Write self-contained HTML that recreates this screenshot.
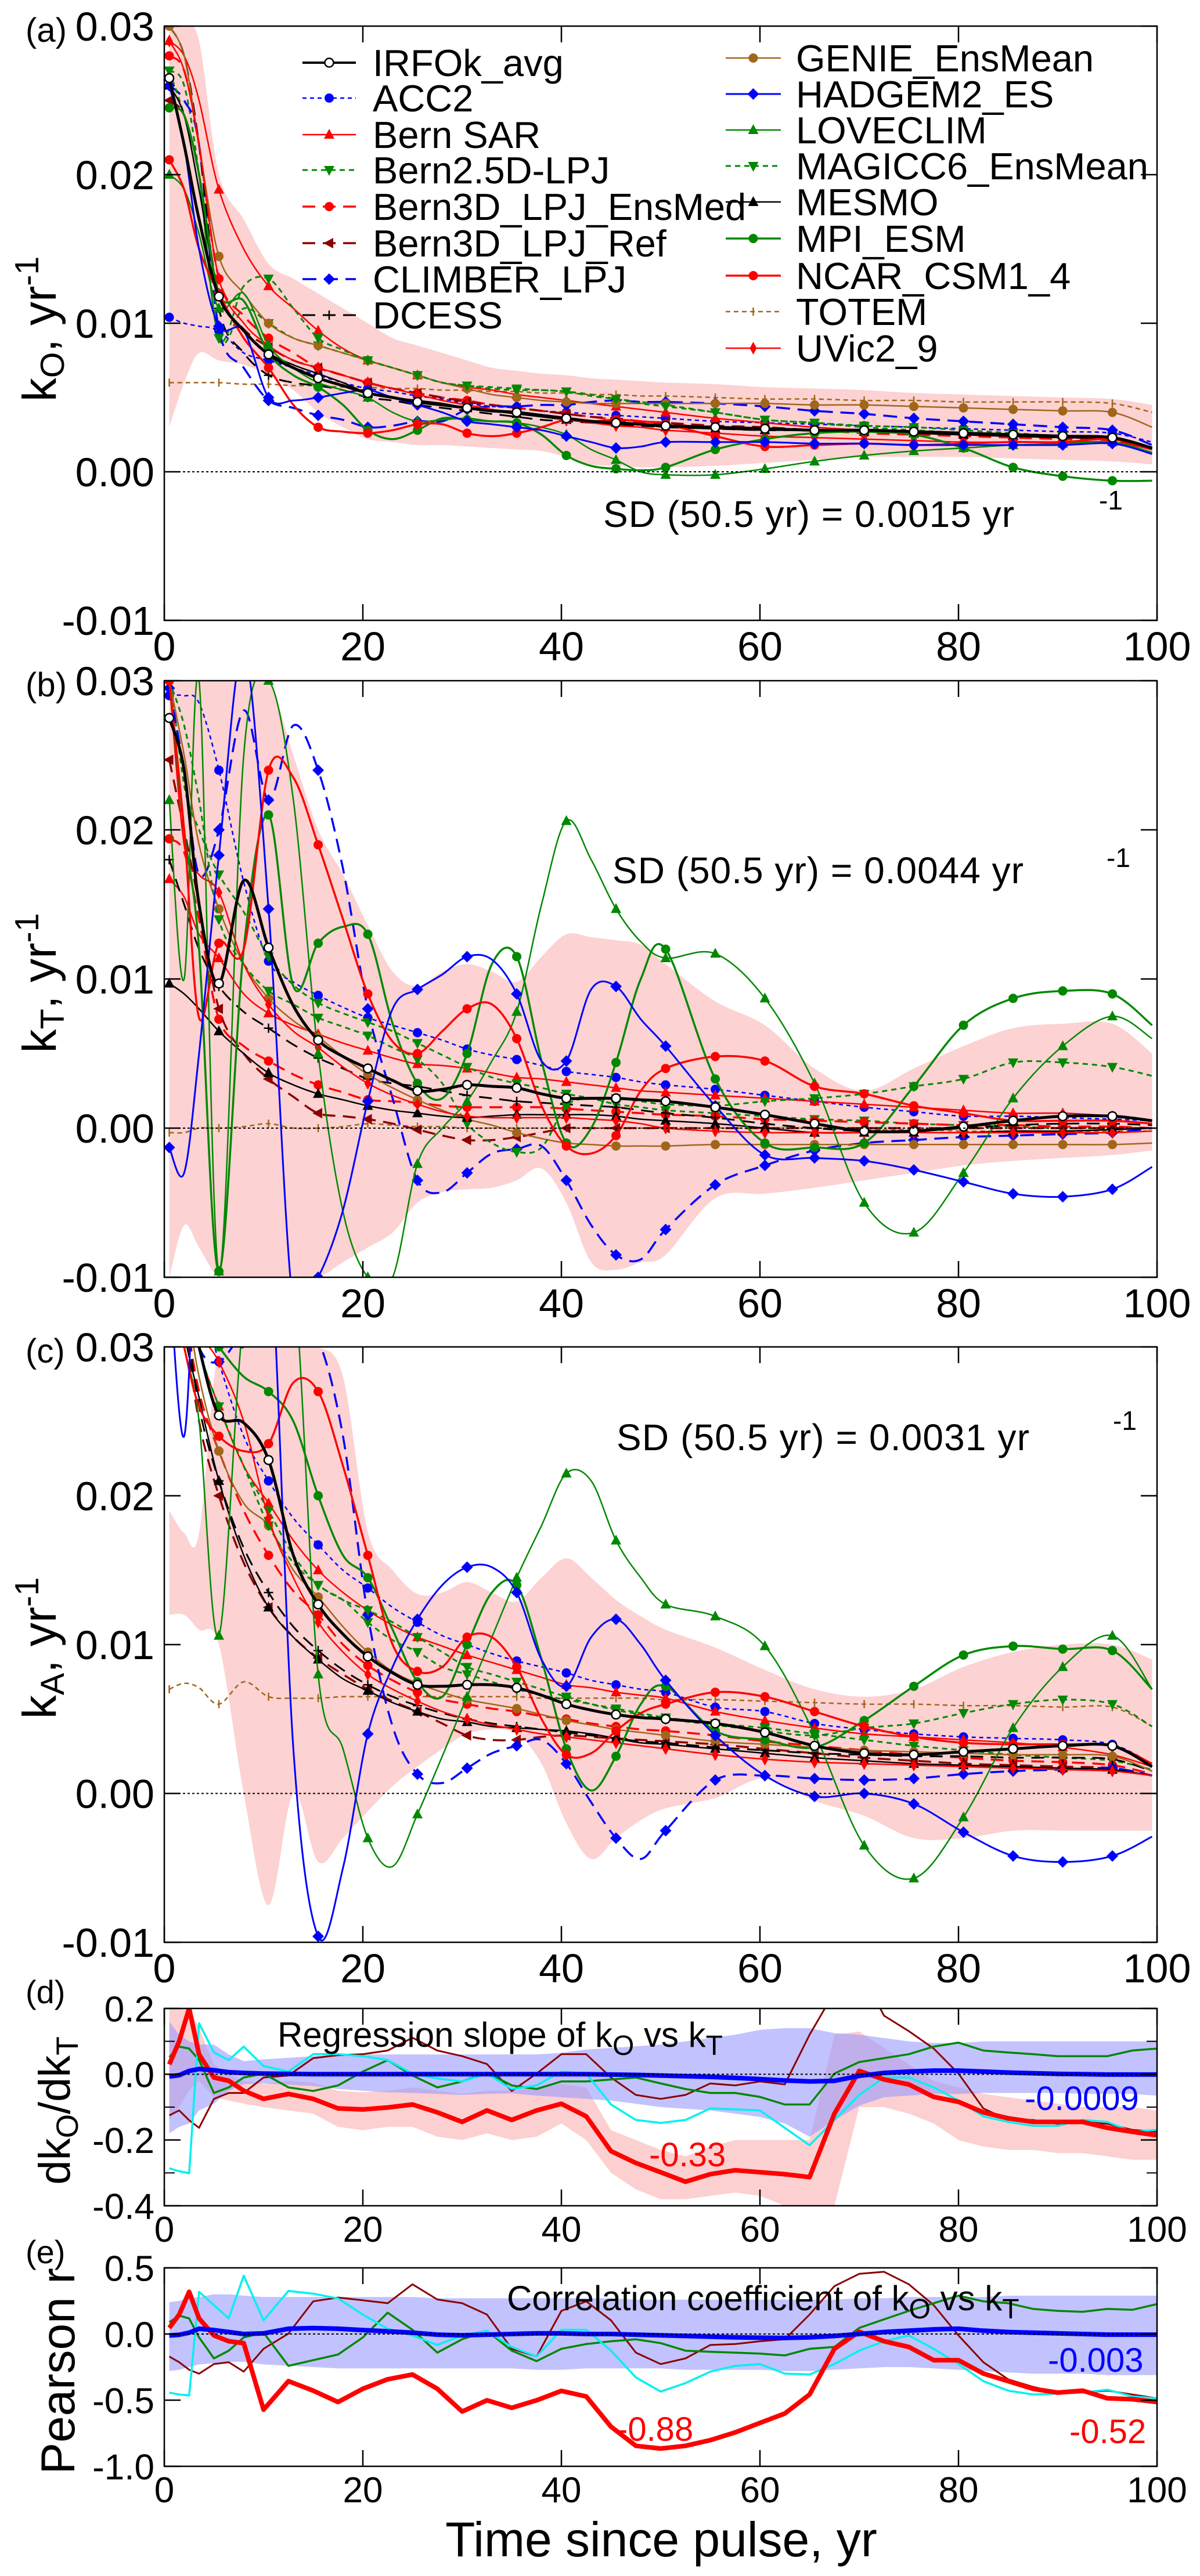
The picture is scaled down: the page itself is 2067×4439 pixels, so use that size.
<!DOCTYPE html>
<html><head><meta charset="utf-8"><style>
html,body{margin:0;padding:0;background:#fff;}
svg{display:block;font-family:"Liberation Sans",Arial,sans-serif;}
</style></head><body>
<svg id="fig" width="2067" height="4439" viewBox="0 0 2067 4439" xmlns="http://www.w3.org/2000/svg"></svg>
<script>
// ---------- shared x grids ----------
const yearsABC = [0.5,2,3.5,5.5,8,10.5,13,15.5,18,20.5,23,25.5,28,30.5,33,35.5,38,40.5,43,45.5,48,50.5,55.5,60.5,65.5,70.5,75.5,80.5,85.5,90.5,95.5,99.5];
const yearsDE = [0.5,1.5,2.5,3.5,5,6.5,8,10,12.5,15,17.5,20,22.5,25,27.5,30,32.5,35,37.5,40,42.5,45,47.5,50,52.5,55,57.5,60,62.5,65,67.5,70,72.5,75,77.5,80,82.5,85,87.5,90,92.5,95,97.5,100];
const xTicks = [0,20,40,60,80,100];
const yTicksABC = [0.03,0.02,0.01,0.00,-0.01];
const yTickLabelsABC = ["0.03","0.02","0.01","0.00","-0.01"];
const yTicksD = [0.2,0.0,-0.2,-0.4];
const yTickLabelsD = ["0.2","0.0","-0.2","-0.4"];
const yTicksE = [0.5,0.0,-0.5,-1.0];
const yTickLabelsE = ["0.5","0.0","-0.5","-1.0"];
const modelNames = ["IRFOk_avg","ACC2","Bern SAR","Bern2.5D-LPJ","Bern3D_LPJ_EnsMed","Bern3D_LPJ_Ref","CLIMBER_LPJ","DCESS","GENIE_EnsMean","HADGEM2_ES","LOVECLIM","MAGICC6_EnsMean","MESMO","MPI_ESM","NCAR_CSM1_4","TOTEM","UVic2_9"];

// ---------- panel (a) kO, units 1e-3 yr-1 ----------
const aIRF=[26.5,22,17,11.8,9.5,7.9,7,6.3,5.8,5.3,5,4.7,4.5,4.3,4.1,4.0,3.8,3.6,3.4,3.3,3.2,3.1,3.0,2.9,2.8,2.8,2.7,2.6,2.5,2.4,2.3,1.6];
const aACC2=[10.4,10,9.8,9.5,8,7.5,7,6.5,6,5.6,5.4,5.1,4.9,4.6,4.4,4.3,4.1,4.0,3.9,3.8,3.7,3.6,3.4,3.3,3.2,3.1,3.0,2.9,2.8,2.7,2.6,2.0];
const aBernSAR=[29,28,25,19,15,12.5,11,9.5,8.3,7.5,7,6.5,6,5.7,5.5,5.2,5,4.8,4.6,4.4,4.2,4.0,3.6,3.3,3.0,2.8,2.6,2.5,2.4,2.3,2.2,1.5];
const aBern25=[27,26,20,9,11,10,9,8.5,8,7.5,7,6.5,6,5.8,5.6,5.5,5.5,5.4,5.1,4.9,4.7,4.5,4.0,3.5,3.3,3.0,2.8,2.6,2.4,2.3,2.2,1.6];
const aBern3DMed=[28,27,22,13,10.5,9,8,7,6.5,6,5.6,5.3,5,4.8,4.5,4.3,4.1,3.9,3.7,3.5,3.3,3.2,3.0,2.9,2.8,2.6,2.5,2.4,2.3,2.2,2.1,1.5];
const aBern3DRef=[25,24,20,12,9.6,8.4,7.5,7,6.5,6,5.6,5.3,5,4.7,4.5,4.3,4.1,3.9,3.7,3.6,3.4,3.3,3.1,3.0,2.8,2.7,2.6,2.5,2.4,2.3,2.2,1.5];
const aClimber=[26,25,22,9.6,7,4.8,4.3,3.8,3.5,3.0,3.1,3.4,3.4,4.2,4.4,4.4,4.5,4.5,4.7,4.8,4.7,4.7,4.6,4.4,4.1,3.9,3.6,3.4,3.2,3.0,2.8,1.8];
const aDcess=[30,28,22,11,8,6.5,6,5.8,5.5,5,4.8,4.5,4.3,4.1,3.9,3.7,3.5,3.4,3.3,3.2,3.1,3.0,2.9,2.8,2.8,2.7,2.6,2.5,2.4,2.4,2.3,1.6];
const aGenie=[30,28,22,14.5,12,10,9,8.5,8,7.5,7,6.5,6,5.6,5.2,5,4.8,4.7,4.6,4.6,4.6,4.6,4.6,4.6,4.5,4.5,4.4,4.3,4.2,4.1,4.0,3.0];
const aHadgem=[26,22,15,9.8,9.5,5,4.8,5,5.3,5.5,5,4.5,4.0,3.4,3.2,3.0,2.8,2.4,2.0,1.6,1.7,2.0,2.0,2.0,1.9,1.9,1.8,1.8,1.8,1.8,1.9,1.2];
const aLoveclim=[20,19,16,11,12,8.5,7,6,5.5,5,4,3.4,3.5,3.6,3.4,3.3,3,2.5,1.5,0.8,0,-0.2,-0.2,0.2,0.7,1.1,1.4,1.6,1.8,1.9,2.0,1.3];
const aMagicc=[27,24,20,9,12.5,13,11,9,8.2,7.5,7,6.5,6,5.8,5.7,5.6,5.5,5.4,5.2,4.9,4.6,4.4,4.0,3.5,3.3,3.1,3.0,2.8,2.6,2.4,2.3,1.5];
const aMesmo=[26,24,19,12,9.5,8,7.2,6.6,6,5.3,5,4.8,4.6,4.3,4.1,3.9,3.7,3.5,3.4,3.3,3.2,3.0,2.9,2.8,2.8,2.7,2.6,2.5,2.4,2.3,2.2,1.5];
const aMpi=[24.5,24,20,12,11.5,8,6.5,5.7,4.5,2.8,2.2,2.8,3.6,3.5,3.4,3.3,2.5,1.1,0.4,0.2,0.1,0.3,1.5,2.2,2.6,2.7,2.5,1.6,0.3,-0.3,-0.6,-0.6];
const aNcar=[21,19,15,12,9,7,4.5,3,2.7,2.6,2.8,3.2,3.2,2.6,2.4,2.6,3.0,3.5,3.4,3.5,3.4,3.2,2.4,1.7,1.8,1.9,1.8,1.9,2.0,2.0,2.2,1.5];
const aTotem=[6,6,6,6,5.9,5.9,5.8,5.8,5.7,5.7,5.6,5.6,5.5,5.5,5.4,5.4,5.3,5.3,5.2,5.2,5.1,5.1,5.0,4.9,4.9,4.8,4.8,4.7,4.7,4.7,4.6,4.0];
const aUvic=[29,27,22,13,10,8.5,7.5,7,6.5,6,5.6,5.2,4.8,4.5,4.2,4.0,3.8,3.5,3.3,3.1,3.0,2.8,2.6,2.4,2.3,2.2,2.1,2.0,2.0,2.0,2.0,1.5];
const aBandHigh=[30,30,29,20,17,14,13,12,11,10,9,8.5,8,7.5,7,6.8,6.6,6.5,6.3,6.2,6.1,6.0,5.9,5.7,5.6,5.5,5.3,5.2,5.1,5.0,4.9,4.5];
const aBandLow=[3,6,8,7.5,7.2,6.5,5.5,4,3,2.2,2,1.8,1.8,1.7,1.6,1.5,1.4,1.0,0.5,0.4,0.3,0.3,0.4,0.6,0.8,1.0,1.0,1.0,0.9,0.8,0.7,0.5];

// ---------- panel (b) kT ----------
const bIRF=[27.5,24,15,9.7,16.6,12.1,8.2,5.9,4.8,4.0,3.2,2.5,2.6,2.9,2.8,2.7,2.3,2.0,2.0,2.0,1.9,1.8,1.4,0.9,0.3,-0.2,-0.2,0.1,0.5,0.8,0.8,0.5];
const bACC2=[29,29,28.5,24,16.5,11.2,9.8,8.9,8.1,7.4,6.9,6.4,5.9,5.3,4.9,4.6,4.2,3.8,3.6,3.4,3.1,2.9,2.6,2.2,1.8,1.4,1.1,0.8,0.8,0.7,0.6,0.5];
const bBernSAR=[16.7,15.5,13,11.4,9,7.7,6.9,6.3,5.7,5.2,4.7,4.3,4.2,4.0,3.7,3.4,3.3,3.1,2.9,2.7,2.5,2.4,2.2,2.0,1.8,1.6,1.4,1.2,1.0,1.0,0.8,0.5];
const bBern25=[31,23,20,17,14.5,11.5,9.6,8.4,7.7,7.1,6.5,5.7,4.9,4.1,3.4,3.0,2.7,2.3,2.0,1.6,1.4,1.2,1.0,0.8,0.6,0.5,0.3,0.2,0.1,0.0,0.0,0.0];
const bBern3DMed=[19.4,18.5,14,7.3,5.5,4.5,3.6,2.9,2.4,1.9,1.8,1.7,1.5,1.4,1.4,1.4,1.4,1.3,1.2,1.1,1.0,0.9,0.8,0.6,0.5,0.4,0.3,0.2,0.2,0.1,0.1,0.0];
const bBern3DRef=[24.7,20,15,8,5,3.3,2.1,1,0.8,0.6,0.3,-0.1,-0.5,-0.8,-0.8,-0.6,-0.3,0,0,0,0,0,0,0,0,0,0,0,0,0,0,0];
const bClimber=[29.5,24,17,20,28,22,27,24,17.4,8,2,-3.5,-4.3,-3,-1.7,-1.4,-1.2,-3.5,-6.5,-8.5,-8.8,-6.8,-3.8,-2.5,-1.5,-1.0,-0.8,-0.6,-0.5,-0.4,-0.3,0];
const bDcess=[18,15,12,9.5,7.8,6.7,5.6,4.7,4,3.3,3.0,2.8,2.5,2.2,2.0,1.8,1.7,1.6,1.5,1.4,1.2,1.0,0.7,0.3,0.0,-0.2,-0.2,0,0.2,0.3,0.3,0.2];
const bGenie=[30,25,19,14.7,11,8.7,7.2,6.1,4.8,3.6,2.7,1.9,1.2,0.6,0.2,-0.3,-0.7,-1.0,-1.1,-1.2,-1.2,-1.2,-1.1,-1.1,-1.1,-1.1,-1.1,-1.1,-1.1,-1.1,-1.1,-1.0];
const bHadgem=[-1.3,-3,5,18.3,32,14.7,-12,-10,-5.5,1.8,8,9.3,10.3,11.5,11.3,9,4.5,4.5,9.3,9.5,7.3,5.5,1.5,-1.8,-2,-2.2,-2.8,-3.6,-4.4,-4.6,-4.1,-2.6];
const bLoveclim=[22,10,30,-9.6,25,30,22,5,-5.6,-10,-10,-2.4,0,1.8,4.5,7.8,15,20.6,18,14.7,12.5,11.4,11.7,8.7,3,-5,-7,-3,2,5.5,7.5,6];
const bMagicc=[30,27,22,14,11,9.2,8.3,7.4,6.8,6.2,5.4,4.6,3,0.3,-1,-1.6,-1.3,1.5,2,2,1.8,1.6,1.5,1.8,2,2.3,2.8,3.3,4.4,4.4,4.1,3.5];
const bMesmo=[9.7,9,8,6.5,5,3.7,2.9,2.3,1.9,1.5,1.2,1.0,0.8,0.7,0.8,0.9,0.9,0.9,0.9,0.8,0.6,0.5,0.3,0,-0.3,-0.3,-0.3,-0.3,-0.2,-0.2,-0.1,0];
const bMpi=[30,20,12,-9.6,12,21,9.5,12.4,13.5,13,7,3,2,5,11,11.5,4.5,-1,0,4.4,10,12,3.3,-1.0,-1.3,-1.0,2.8,6.9,8.7,9.2,9,6.9];
const bNcar=[30,20,7.4,12.4,12,24,23.5,19,14,9,5.8,5.0,6.5,8,8.3,6,1.5,-1.2,-1.7,-0.5,2.5,4,4.8,4.5,2.8,2.3,1.5,1.0,0.5,0.5,0.5,0.3];
const bTotem=[-0.3,-0.3,0,0,0.1,0.3,0,0,0.1,0.3,0.2,0.1,0.1,0,0,0,0,0,0,0,0,0,0,0,0,-0.1,-0.1,-0.2,-0.2,-0.2,-0.2,-0.2];
const bUvic=[30,19,17,15.8,11,8.3,6.5,5.4,4.1,3.0,2.2,1.6,1.1,0.8,0.7,0.7,0.7,0.7,0.6,0.5,0.3,0,-0.2,-0.3,-0.3,-0.3,-0.3,-0.3,-0.3,-0.3,-0.3,-0.2];
const bBandHigh=[30,30,30,30,30,30,25,20,17,13.6,10.5,9.5,10.5,11,10.5,9.8,11.5,13,12.8,12.6,12.3,11,8.5,6.9,4,2.5,4,5.5,6.7,7,7,5];
const bBandLow=[-10,-6.5,-8,-10,-10,-10,-10,-10,-9,-8,-7,-5,-4.3,-4.1,-4,-3.5,-2.7,-5,-9,-9.5,-9,-8.5,-4.7,-4.4,-4,-3.5,-3,-2.5,-2.2,-2,-1.8,-1.5];

// ---------- panel (c) kA ----------
const cIRF=[40,35,30,25.4,24.9,22.4,16,12.7,10.7,9.2,8.1,7.3,7.2,7.3,7.3,7.1,6.6,6.0,5.6,5.3,5.1,5.0,4.7,4.1,3.2,2.7,2.6,2.8,3.0,3.2,3.2,1.8];
const cACC2=[40,38,34,29,24,21,18.5,16.7,15,13.8,12.5,11.5,10.6,10,9.4,8.9,8.5,8.1,7.6,7.3,7.0,6.8,5.8,5.5,4.7,4.3,4.0,3.8,3.7,3.6,3.3,2.0];
const cBernSAR=[40,36,30,26,22,19.5,17,15,13.5,12.3,11.3,10.5,9.9,9.3,8.8,8.3,7.8,7.3,7.1,6.8,6.6,6.4,5.5,4.9,4.4,4.0,3.8,3.6,3.4,3.1,2.6,1.8];
const cBern25=[40,36,30,26,22,19,16,14,13,11.5,10.3,9.5,8.5,8,7.5,7,6.6,6.3,6,5.7,5.4,5.1,4.7,4.4,4.0,3.6,3.2,2.9,2.6,2.4,2.2,1.6];
const cBern3DMed=[40,33,27,23,19,16,13.6,12,10,8.6,7.6,6.8,6.3,6.0,5.7,5.5,5.2,5.0,4.7,4.5,4.3,4.2,3.9,3.5,3.2,2.9,2.6,2.4,2.2,2.1,1.9,1.3];
const cBern3DRef=[40,32,25,20,15.5,12.5,10.5,9.1,8,7,6.2,5.5,4.7,3.9,3.6,3.6,3.8,3.9,3.8,3.7,3.6,3.5,3.3,3.0,2.7,2.4,2.2,2.0,1.9,1.8,1.7,1.2];
const cClimber=[40,35,30,29,31,32,32,30.5,24,12,4.5,1.3,0.7,1.7,2.7,3.2,3.6,2.0,-0.6,-3,-4.4,-2.5,0.9,1.2,1.0,0.9,1.0,1.3,1.5,1.6,1.7,1.2];
const cDcess=[40,33,26,21,16.5,13.5,11.2,9.6,8.3,7.3,6.5,5.9,5.4,5.0,4.7,4.5,4.3,4.1,3.9,3.7,3.5,3.4,3.1,2.9,2.7,2.6,2.5,2.5,2.4,2.4,2.3,1.5];
const cGenie=[40,34,28,23,19.5,18,15,13.2,11.2,9.5,8.2,7.4,6.8,6.3,6.0,5.7,5.3,4.9,4.6,4.3,4.1,3.9,3.5,3.3,3.1,2.9,2.8,2.7,2.6,2.6,2.5,1.5];
const cHadgem=[35,24,40,35,30,38,3,-9.6,-5,4,8.5,11.7,14,15.2,15.2,13.5,9,7.2,10.5,11.7,10,7.6,3.9,1.2,-0.2,0,-0.7,-2.6,-4.2,-4.6,-4.2,-2.9];
const cLoveclim=[35,30,25,10.6,32,35,35,8,3,-3,-4.9,-1.4,2.5,6.5,10.5,14.5,18,21.5,21,17,14.5,12.7,11.9,9.9,4,-3.5,-5.7,-1.6,4.4,8.5,10.6,7];
const cMagicc=[40,36,30,26,22,18,15.5,14,13,12.3,11.5,10.5,9.5,8.5,8,7.5,7,6.5,6,5.6,5.3,5.0,4.6,4.2,3.9,4.4,4.7,5.4,6.0,6.3,6.0,4.5];
const cMesmo=[38,31,26.6,21,16,12.5,10.5,9,7.7,6.9,6.1,5.5,5,4.8,4.5,4.4,4.3,4.2,4.0,3.7,3.4,3.3,3.0,2.7,2.4,2.2,2.0,1.9,1.8,1.7,1.6,1.2];
const cMpi=[38,35,32,30,28,27,25,20,16,14.5,11,7.5,6.5,10,13.5,14,9,3,0.2,2.5,6,7.2,4.2,3.6,3.1,4.9,7.2,9.3,9.9,9.7,9.6,7];
const cNcar=[35,30,26,24,23,23.5,27.6,27,22,16,10,8.2,8.5,10.5,10.5,8.5,5,2.6,2.7,4.2,5.4,6,6.8,6.5,5.5,4.5,3.8,3.4,3.3,3.3,3.2,2];
const cTotem=[7,7.4,7.1,6,7.5,6.5,6.4,6.4,6.5,6.5,6.5,6.5,6.5,6.5,6.5,6.5,6.4,6.4,6.4,6.4,6.4,6.3,6.3,6.2,6.1,6.0,6.0,5.9,5.9,5.8,5.8,4.5];
const cUvic=[38,34,31,29,25,18.5,14.5,11.5,9.5,8,7,6.2,5.5,5,4.6,4.3,4.0,3.8,3.6,3.4,3.2,3.0,2.6,2.3,2.1,2.0,1.9,1.8,1.7,1.6,1.5,1.2];
const cBandHigh=[19,17.5,17.5,30,30,30,30,30,28,17.6,15,13.4,13.5,14.2,13.5,12.9,14.5,15.8,14.5,13,11.9,11,9.8,8.3,7,6.5,7,8.5,9.5,10,10,9];
const cBandLow=[12,12,11,10,0,-7.5,0,-4.6,-3,-1.2,0.5,1.8,3,4,4.3,4.0,2,-2,-4.4,-3,-1.8,-1,-0.3,1,-0.5,-1.5,-3,-3,-2.5,-2.5,-2.5,-2.5];

// ---------- panel (d) regression slope ----------
const dRedMedian=[0.03,0.10,0.2,0.06,-0.01,-0.02,-0.05,-0.075,-0.06,-0.075,-0.104,-0.107,-0.101,-0.092,-0.116,-0.145,-0.110,-0.139,-0.110,-0.09,-0.128,-0.234,-0.27,-0.298,-0.327,-0.304,-0.292,-0.298,-0.304,-0.313,-0.12,0.01,-0.016,-0.031,-0.069,-0.084,-0.116,-0.134,-0.145,-0.145,-0.145,-0.163,-0.175,-0.186];
const dBlueMedian=[-0.007,-0.003,0.01,0.016,0.012,0.006,0.004,0.002,0.001,0,0,0,0,0,0,0,0,0,0,0,0,-0.001,-0.002,-0.004,-0.006,-0.008,-0.011,-0.015,-0.019,-0.022,-0.02,-0.005,0.004,0.008,0.011,0.011,0.008,0.005,0.003,0.001,0,-0.001,-0.001,-0.001];
const dDarkRed=[-0.125,-0.11,-0.14,-0.163,-0.075,-0.057,-0.057,-0.01,-0.004,0.049,0.058,0.061,0.072,0.111,0.072,0.055,0.031,-0.051,0.002,0.061,0.061,-0.01,-0.063,-0.075,-0.063,-0.028,-0.034,-0.022,-0.031,0.12,0.25,0.32,0.178,0.131,0.078,0.002,-0.104,-0.139,-0.139,-0.151,-0.145,-0.151,-0.169,-0.175];
const dGreen=[0.052,0.084,0.078,0.043,-0.057,-0.04,-0.01,0.002,-0.04,-0.051,-0.034,0.008,0.043,-0.004,-0.04,-0.022,0.005,-0.034,-0.045,-0.022,-0.022,-0.016,-0.01,-0.028,-0.045,-0.057,-0.057,-0.069,-0.092,-0.092,0.002,0.037,0.049,0.061,0.084,0.096,0.072,0.066,0.061,0.055,0.055,0.055,0.072,0.078];
const dCyan=[-0.286,-0.295,-0.301,0.155,0.066,0.043,0.084,0.025,0.008,0.061,0.061,0.055,0.043,0.002,-0.013,-0.022,0.002,-0.045,-0.034,0.008,0.002,-0.092,-0.139,-0.148,-0.139,-0.104,-0.107,-0.11,-0.163,-0.216,-0.139,-0.063,-0.01,-0.01,-0.04,-0.08,-0.128,-0.145,-0.157,-0.157,-0.139,-0.145,-0.175,-0.169];
const dBlueHigh=[0.16,0.12,0.1,0.09,0.09,0.06,0.04,0.045,0.05,0.055,0.06,0.06,0.06,0.06,0.06,0.06,0.06,0.06,0.06,0.065,0.075,0.08,0.085,0.09,0.1,0.11,0.12,0.135,0.14,0.14,0.125,0.12,0.11,0.1,0.095,0.095,0.1,0.1,0.1,0.1,0.1,0.1,0.1,0.1];
const dBlueLow=[-0.18,-0.16,-0.15,-0.11,-0.09,-0.05,-0.03,-0.028,-0.032,-0.036,-0.045,-0.05,-0.055,-0.057,-0.06,-0.063,-0.06,-0.058,-0.065,-0.07,-0.075,-0.08,-0.09,-0.1,-0.105,-0.11,-0.12,-0.13,-0.15,-0.19,-0.14,-0.095,-0.07,-0.065,-0.06,-0.06,-0.057,-0.057,-0.057,-0.057,-0.06,-0.06,-0.06,-0.065];
const dRedHigh=[0.2,0.2,0.2,0.14,0.03,0.0,-0.02,-0.03,-0.02,-0.025,-0.05,-0.055,-0.05,-0.04,-0.05,-0.06,-0.05,-0.05,-0.04,-0.03,-0.04,-0.17,-0.2,-0.23,-0.25,-0.22,-0.2,-0.2,-0.2,-0.2,0.12,0.13,0.08,0.03,-0.02,-0.04,-0.06,-0.07,-0.08,-0.09,-0.1,-0.1,-0.1,-0.11];
const dRedLow=[-0.14,-0.1,-0.05,-0.02,-0.07,-0.08,-0.09,-0.1,-0.11,-0.12,-0.16,-0.17,-0.16,-0.16,-0.19,-0.2,-0.18,-0.2,-0.19,-0.15,-0.2,-0.3,-0.35,-0.38,-0.38,-0.37,-0.36,-0.37,-0.4,-0.4,-0.4,-0.1,-0.1,-0.12,-0.15,-0.2,-0.22,-0.23,-0.23,-0.24,-0.24,-0.25,-0.26,-0.26];

// ---------- panel (e) Pearson r ----------
const eRedMedian=[0.046,0.147,0.319,0.118,-0.011,-0.055,-0.069,-0.572,-0.356,-0.428,-0.514,-0.414,-0.342,-0.306,-0.414,-0.586,-0.501,-0.558,-0.501,-0.43,-0.472,-0.701,-0.845,-0.866,-0.845,-0.802,-0.744,-0.672,-0.601,-0.457,-0.112,0.017,-0.055,-0.098,-0.198,-0.198,-0.299,-0.356,-0.414,-0.443,-0.428,-0.486,-0.493,-0.514];
const eBlueMedian=[-0.011,-0.006,0.01,0.04,0.03,0.015,0.0,0.005,0.04,0.045,0.04,0.03,0.02,0.01,-0.005,-0.01,-0.005,0.0,0.005,0.005,0.0,0,-0.005,-0.01,-0.015,-0.02,-0.025,-0.028,-0.03,-0.025,-0.015,0.0,0.015,0.025,0.035,0.04,0.025,0.015,0.01,0.005,0,-0.005,-0.005,-0.005];
const eDarkRed=[-0.17,-0.213,-0.27,-0.3,-0.227,-0.213,-0.284,-0.112,0.003,0.247,0.276,0.255,0.233,0.376,0.261,0.233,0.147,-0.112,-0.17,0.175,0.247,0.103,-0.141,-0.227,-0.184,-0.083,-0.076,-0.055,-0.040,0.147,0.362,0.455,0.47,0.376,0.218,-0.011,-0.213,-0.342,-0.399,-0.443,-0.443,-0.428,-0.457,-0.486];
const eGreen=[0.089,0.139,0.118,-0.026,-0.184,-0.126,-0.026,0.01,-0.241,-0.198,-0.155,-0.026,0.161,0.032,-0.141,-0.04,0.024,-0.126,-0.205,-0.112,-0.076,-0.055,-0.04,-0.069,-0.126,-0.134,-0.141,-0.148,-0.162,-0.112,-0.098,0.046,0.111,0.175,0.233,0.29,0.247,0.233,0.19,0.175,0.168,0.19,0.183,0.226];
const eCyan=[-0.443,-0.457,-0.464,0.319,0.218,0.118,0.441,0.103,0.326,0.305,0.269,0.147,0.039,-0.011,-0.083,-0.011,0.024,-0.098,-0.17,0.032,0.032,-0.126,-0.328,-0.435,-0.371,-0.284,-0.241,-0.227,-0.299,-0.306,-0.227,-0.126,-0.055,-0.011,-0.112,-0.227,-0.356,-0.428,-0.457,-0.45,-0.443,-0.421,-0.471,-0.486];
const eBlueHigh=[0.24,0.25,0.27,0.28,0.3,0.3,0.29,0.28,0.28,0.28,0.28,0.28,0.28,0.28,0.27,0.27,0.27,0.27,0.27,0.27,0.27,0.27,0.26,0.26,0.26,0.26,0.26,0.26,0.26,0.26,0.26,0.27,0.27,0.28,0.28,0.28,0.28,0.29,0.29,0.29,0.29,0.29,0.29,0.29];
const eBlueLow=[-0.28,-0.27,-0.25,-0.23,-0.22,-0.21,-0.21,-0.23,-0.24,-0.25,-0.26,-0.26,-0.26,-0.26,-0.26,-0.26,-0.26,-0.26,-0.27,-0.27,-0.26,-0.26,-0.26,-0.26,-0.27,-0.27,-0.27,-0.27,-0.28,-0.28,-0.27,-0.26,-0.25,-0.25,-0.26,-0.27,-0.28,-0.29,-0.3,-0.3,-0.3,-0.31,-0.31,-0.31];

// ---------- drawing ----------
const NS="http://www.w3.org/2000/svg";
const svg=document.getElementById('fig');
const X0=283,X1=1993;
function sx(x){return X0+(X1-X0)*x/100;}
function mk(tag,attrs,parent){const e=document.createElementNS(NS,tag);for(const k in attrs)e.setAttribute(k,attrs[k]);(parent||svg).appendChild(e);return e;}
function txt(s,x,y,size,anchor,fill,parent){const t=mk('text',{x:x,y:y,'font-size':size,'text-anchor':anchor||'start',fill:fill||'#000'},parent);t.textContent=s;return t;}

const styles=[
 {c:'#000',w:5,d:'',m:'ocircle'},
 {c:'#0000ff',w:2.5,d:'7,6',m:'circle'},
 {c:'#ff0000',w:2.5,d:'',m:'tri'},
 {c:'#008800',w:3,d:'9,7',m:'trid'},
 {c:'#ff0000',w:3.5,d:'22,13',m:'circle'},
 {c:'#8b0000',w:3.5,d:'22,13',m:'tril'},
 {c:'#0000ff',w:3.5,d:'24,13',m:'diamond'},
 {c:'#000',w:3,d:'22,13',m:'plus'},
 {c:'#a0661a',w:2.5,d:'',m:'circle'},
 {c:'#0000ff',w:3,d:'',m:'diamond'},
 {c:'#008800',w:2.5,d:'',m:'tri'},
 {c:'#008800',w:3,d:'9,7',m:'trid'},
 {c:'#000',w:2.5,d:'',m:'tri'},
 {c:'#008800',w:3.5,d:'',m:'circle'},
 {c:'#ff0000',w:3.5,d:'',m:'circle'},
 {c:'#a0661a',w:2.5,d:'8,6',m:'tick'},
 {c:'#ff0000',w:2.5,d:'',m:'tdiamond'}
];

function marker(type,x,y,c,g){
  const s=9;
  if(type==='circle')return mk('circle',{cx:x,cy:y,r:8,fill:c},g);
  if(type==='ocircle')return mk('circle',{cx:x,cy:y,r:7.5,fill:'#fff',stroke:'#000','stroke-width':2.5},g);
  if(type==='tri')return mk('polygon',{points:`${x},${y-s-1} ${x-s},${y+s-2} ${x+s},${y+s-2}`,fill:c},g);
  if(type==='trid')return mk('polygon',{points:`${x},${y+s+1} ${x-s},${y-s+2} ${x+s},${y-s+2}`,fill:c},g);
  if(type==='tril')return mk('polygon',{points:`${x-s-1},${y} ${x+s-2},${y-s} ${x+s-2},${y+s}`,fill:c},g);
  if(type==='diamond')return mk('polygon',{points:`${x},${y-10} ${x+10},${y} ${x},${y+10} ${x-10},${y}`,fill:c},g);
  if(type==='tdiamond')return mk('polygon',{points:`${x},${y-11} ${x+6},${y} ${x},${y+11} ${x-6},${y}`,fill:c},g);
  if(type==='plus'){return mk('path',{d:`M${x-8},${y}H${x+8}M${x},${y-8}V${y+8}`,stroke:c,'stroke-width':2.5},g);}
  if(type==='tick'){return mk('path',{d:`M${x},${y-7}V${y+7}`,stroke:c,'stroke-width':2.5},g);}
}
function smoothPath(pts){
  let d=`M${pts[0][0].toFixed(1)},${pts[0][1].toFixed(1)}`;
  for(let i=0;i<pts.length-1;i++){
    const p0=pts[Math.max(0,i-1)],p1=pts[i],p2=pts[i+1],p3=pts[Math.min(pts.length-1,i+2)];
    const c1x=p1[0]+(p2[0]-p0[0])/6,c1y=p1[1]+(p2[1]-p0[1])/6;
    const c2x=p2[0]-(p3[0]-p1[0])/6,c2y=p2[1]-(p3[1]-p1[1])/6;
    d+=`C${c1x.toFixed(1)},${c1y.toFixed(1)} ${c2x.toFixed(1)},${c2y.toFixed(1)} ${p2[0].toFixed(1)},${p2[1].toFixed(1)}`;
  }
  return d;
}
function linePath(pts){return pts.map((p,i)=>(i?'L':'M')+p[0].toFixed(1)+','+p[1].toFixed(1)).join('');}
function bandPath(xs,hi,lo,sy,smooth){
  const n=Math.min(xs.length,hi.length,lo.length);
  const top=[],bot=[];
  for(let i=0;i<n;i++){top.push([sx(xs[i]),sy(hi[i])]);bot.push([sx(xs[i]),sy(lo[i])]);}
  bot.reverse();
  if(smooth){return smoothPath(top)+smoothPath(bot).replace('M','L')+'Z';}
  return linePath(top)+linePath(bot).replace('M','L')+'Z';
}

function frame(name,top,bot,yt,ytl,sy,tickSize,minor){
  const g=mk('g',{});
  
  
  mk('rect',{x:X0,y:top,width:X1-X0,height:bot-top,fill:'none',stroke:'#000','stroke-width':2.5},g);
  xTicks.forEach(v=>{const x=sx(v);mk('path',{d:`M${x},${top}v28M${x},${bot}v-28`,stroke:'#000','stroke-width':2.5},g);});
  yt.forEach((v,i)=>{const y=sy(v);mk('path',{d:`M${X0},${y}h28M${X1},${y}h-28`,stroke:'#000','stroke-width':2.5},g);
    const t=txt(ytl[i],266,y+tickSize*0.36,tickSize,'end','#000',g);
    });
  (minor||[]).forEach(v=>{const y=sy(v);mk('path',{d:`M${X0},${y}h18M${X1},${y}h-18`,stroke:'#000','stroke-width':2},g);});
  xTicks.forEach(v=>{const t=txt(String(v),sx(v),bot+tickSize*0.9+6,tickSize,'middle','#000',g);
    });
  mk('line',{x1:X0,x2:X1,y1:sy(0),y2:sy(0),stroke:'#000','stroke-width':2,'stroke-dasharray':'4,4'},g);
  return g;
}
function clip(id,top,bot){const cp=mk('clipPath',{id:id});mk('rect',{x:X0,y:top,width:X1-X0,height:bot-top},cp);}

function panelModels(key,top,bot,data,bandHi,bandLo){
  const sy=v=>top+(bot-top)*(30-v)/40;
  clip('clip'+key,top,bot);
  const g=mk('g',{'clip-path':`url(#clip${key})`});
  
  
  const band=mk('path',{d:bandPath(yearsABC,bandHi,bandLo,sy,true),fill:'#fcd2d2'},g);
  
  
  const order=[15,1,2,3,4,5,6,7,8,11,12,16,10,13,14,9,0];
  order.forEach(i=>{
    const st=styles[i],ys=data[i];
    const n=Math.min(yearsABC.length,ys.length);
    const pts=[];for(let k=0;k<n;k++)pts.push([sx(yearsABC[k]),sy(ys[k])]);
    const sg=mk('g',{},g);
    
    
    const a={d:smoothPath(pts),fill:'none',stroke:st.c,'stroke-width':st.w,'stroke-linejoin':'round'};
    if(st.d)a['stroke-dasharray']=st.d;
    mk('path',a,sg);
    for(let k=0;k<n;k++){const x=yearsABC[k];if(Math.abs(((x-0.5)%5))<0.01&&ys[k]<31&&ys[k]>-11)marker(st.m,pts[k][0],pts[k][1],st.c,sg);}
  });
  return sy;
}

const syA=panelModels('a',45,1069,[aIRF,aACC2,aBernSAR,aBern25,aBern3DMed,aBern3DRef,aClimber,aDcess,aGenie,aHadgem,aLoveclim,aMagicc,aMesmo,aMpi,aNcar,aTotem,aUvic],aBandHigh,aBandLow);
frame('panel-a',45,1069,yTicksABC.map(v=>v*1000),yTickLabelsABC,syA,70);
const syB=panelModels('b',1173,2201,[bIRF,bACC2,bBernSAR,bBern25,bBern3DMed,bBern3DRef,bClimber,bDcess,bGenie,bHadgem,bLoveclim,bMagicc,bMesmo,bMpi,bNcar,bTotem,bUvic],bBandHigh,bBandLow);
frame('panel-b',1173,2201,yTicksABC.map(v=>v*1000),yTickLabelsABC,syB,70);
const syC=panelModels('c',2321,3347,[cIRF,cACC2,cBernSAR,cBern25,cBern3DMed,cBern3DRef,cClimber,cDcess,cGenie,cHadgem,cLoveclim,cMagicc,cMesmo,cMpi,cNcar,cTotem,cUvic],cBandHigh,cBandLow);
frame('panel-c',2321,3347,yTicksABC.map(v=>v*1000),yTickLabelsABC,syC,70);

function panelStats(key,top,bot,ymax,ymin,lines,bands){
  const sy=v=>top+(bot-top)*(ymax-v)/(ymax-ymin);
  clip('clip'+key,top,bot);
  const g=mk('g',{'clip-path':`url(#clip${key})`});
  
  
  bands.forEach(b=>{const p=mk('path',{d:bandPath(yearsDE,b.hi,b.lo,sy,false),fill:b.c,'fill-opacity':b.o},g);
    });
  lines.forEach(l=>{const n=Math.min(yearsDE.length,l.v.length);const pts=[];for(let k=0;k<n;k++)pts.push([sx(yearsDE[k]),sy(l.v[k])]);
    const p=mk('path',{d:linePath(pts),fill:'none',stroke:l.c,'stroke-width':l.w,'stroke-linejoin':'round'},g);
    });
  return sy;
}
const syD=panelStats('d',3461,3801,0.2,-0.4,[
 {name:'darkred-line',c:'#8b0000',w:3,v:dDarkRed},
 {name:'green-line',c:'#008800',w:3.5,v:dGreen},
 {name:'cyan-line',c:'#00f0f0',w:3.5,v:dCyan},
 {name:'red-median-line',c:'#ff0000',w:8,v:dRedMedian},
 {name:'blue-median-line',c:'#0000ff',w:8,v:dBlueMedian}],
 [{name:'red-band',c:'#fcc8c8',o:0.85,hi:dRedHigh,lo:dRedLow},{name:'blue-band',c:'#9999ff',o:0.6,hi:dBlueHigh,lo:dBlueLow}]);
frame('panel-d',3461,3801,yTicksD,yTickLabelsD,syD,62,[0.1,-0.1,-0.3]);
const syE=panelStats('e',3908,4250,0.5,-1.0,[
 {name:'darkred-line',c:'#8b0000',w:3,v:eDarkRed},
 {name:'green-line',c:'#008800',w:3.5,v:eGreen},
 {name:'cyan-line',c:'#00f0f0',w:3.5,v:eCyan},
 {name:'red-median-line',c:'#ff0000',w:8,v:eRedMedian},
 {name:'blue-median-line',c:'#0000ff',w:8,v:eBlueMedian}],
 [{name:'blue-band',c:'#9999ff',o:0.6,hi:eBlueHigh,lo:eBlueLow}]);
frame('panel-e',3908,4250,yTicksE,yTickLabelsE,syE,62);

// legend
const legL=[0,1,2,3,4,5,6,7], legR=[8,9,10,11,12,13,14,15,16];
const legYL=[108,169,232,293,356,419,481,543], legYR=[100,162,224,286,348,411,475,537,600];
function legendEntry(i,x1,x2,tx,y){
  const g=mk('g',{});
  
  
  const st=styles[i];
  const a={d:`M${x1},${y}H${x2}`,stroke:st.c,'stroke-width':Math.min(st.w,4)};
  if(st.d)a['stroke-dasharray']=st.d;
  mk('path',a,g);
  marker(st.m,(x1+x2)/2,y,st.c,g);
  txt(modelNames[i],tx,y+23,65,'start','#000',g);
}
legL.forEach((i,k)=>legendEntry(i,521,613,642,legYL[k]));
legR.forEach((i,k)=>legendEntry(i,1250,1345,1371,legYR[k]));

// annotations
function ann(s,x,y,size,fill,name,len){const t=txt(s,x,y,size,'start',fill);if(len)t.setAttribute('textLength',len);
  return t;}
ann('SD (50.5 yr) = 0.0015 yr',1039,908,64,'#000','sd-label-a',708);
ann('-1',1893,878,46,'#000','sd-unit-a');
ann('SD (50.5 yr) = 0.0044 yr',1055,1522,64,'#000','sd-label-b',708);
ann('-1',1906,1494,46,'#000','sd-unit-b');
ann('SD (50.5 yr) = 0.0031 yr',1062,2499,64,'#000','sd-label-c',711);
ann('-1',1917,2464,46,'#000','sd-unit-c');
ann('(a)',44,72,58,'#000','panel-label-a');
ann('(b)',44,1200,58,'#000','panel-label-b');
ann('(c)',44,2348,58,'#000','panel-label-c');
ann('(d)',44,3452,56,'#000','panel-label-d');
ann('(e)',44,3900,56,'#000','panel-label-e');

function subTitle(parts,x,y,size,name){const t=mk('text',{x:x,y:y,'font-size':size});
  
  parts.forEach(p=>{const s=mk('tspan',p.sub?{'font-size':size*0.8,dy:p.dy}:{dy:p.dy||0},t);s.textContent=p.t;});return t;}
subTitle([{t:'Regression slope of k'},{t:'O',sub:1,dy:14},{t:' vs k',dy:-14},{t:'T',sub:1,dy:14}],478,3527,60,'regression-title');
subTitle([{t:'Correlation coefficient of k'},{t:'O',sub:1,dy:14},{t:' vs k',dy:-14},{t:'T',sub:1,dy:14}],873,3981,60,'correlation-title');
ann('-0.33',1118,3733,58,'#ff0000','red-slope-label');
ann('-0.0009',1765,3636,58,'#0000ff','blue-slope-label');
ann('-0.88',1062,4206,58,'#ff0000','red-r-label');
ann('-0.52',1842,4210,58,'#ff0000','red-r-end-label');
ann('-0.003',1805,4087,58,'#0000ff','blue-r-label');

function yTitle(parts,cx,cy,size,name){const t=mk('text',{x:0,y:0,'font-size':size,'text-anchor':'middle',transform:`translate(${cx},${cy}) rotate(-90)`});
  
  parts.forEach(p=>{const s=mk('tspan',p.sub?{'font-size':size*0.7,dy:p.dy}:{dy:p.dy||0},t);s.textContent=p.t;});}
yTitle([{t:'k'},{t:'O',sub:1,dy:14},{t:', yr',dy:-14},{t:'-1',sub:1,dy:-30}],96,567,82,'y-axis-title-a');
yTitle([{t:'k'},{t:'T',sub:1,dy:14},{t:', yr',dy:-14},{t:'-1',sub:1,dy:-30}],96,1694,82,'y-axis-title-b');
yTitle([{t:'k'},{t:'A',sub:1,dy:14},{t:', yr',dy:-14},{t:'-1',sub:1,dy:-30}],96,2840,82,'y-axis-title-c');
yTitle([{t:'dk'},{t:'O',sub:1,dy:14},{t:'/dk',dy:-14},{t:'T',sub:1,dy:14}],120,3637,76,'y-axis-title-d');
yTitle([{t:'Pearson r'}],128,4086,82,'y-axis-title-e');
const xt=txt('Time since pulse, yr',1139,4405,84,'middle','#000');


</script>
</body></html>
